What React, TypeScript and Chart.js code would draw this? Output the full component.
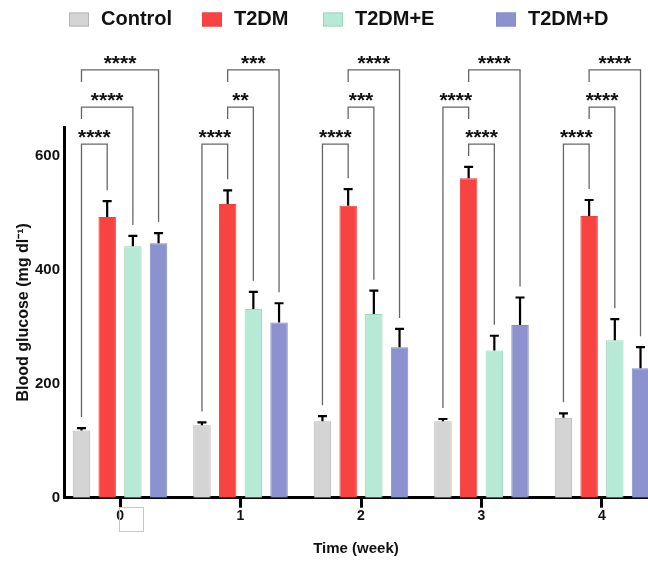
import React, { useEffect, useRef } from 'react';
import { Chart, registerables } from 'chart.js';

Chart.register(...registerables);

// ---------- data ----------
const WEEKS = [0, 1, 2, 3, 4];
const SERIES_NAMES = ['Control', 'T2DM', 'T2DM+E', 'T2DM+D'];

const CONTROL = [118, 127, 134, 134, 140];
const CONTROL_SD = [4, 5, 9, 4, 8];
const T2DM = [492, 515, 512, 560, 494];
const T2DM_SD = [28, 24, 29, 20, 28];
const T2DM_E = [441, 331, 322, 258, 276];
const T2DM_E_SD = [18, 30, 41, 26, 37];
const T2DM_D = [446, 307, 264, 303, 227];
const T2DM_D_SD = [18, 34, 32, 48, 37];

const Y_TICKS = [0, 200, 400, 600];

// significance brackets per week: [seriesA, seriesB, label], listed from lowest level up
const SIG_W0: [number, number, string][] = [[0, 1, '****'], [0, 2, '****'], [0, 3, '****']];
const SIG_W1: [number, number, string][] = [[0, 1, '****'], [1, 2, '**'], [1, 3, '***']];
const SIG_W2: [number, number, string][] = [[0, 1, '****'], [1, 2, '***'], [1, 3, '****']];
const SIG_W3: [number, number, string][] = [[1, 2, '****'], [0, 1, '****'], [1, 3, '****']];
const SIG_W4: [number, number, string][] = [[0, 1, '****'], [1, 2, '****'], [1, 3, '****']];
const BRACKET_LEVELS = [620, 685, 750];

// ---------- style ----------
const FILL = ['#d4d4d4', '#f84343', '#b6e9d6', '#8b92cd'];
const BORDER = ['#b4b4b4', '#f04040', '#9fd6c0', '#858bc8'];
const FONT = '"Liberation Sans", Arial, Helvetica, sans-serif';
const LEGEND_X = [69, 202, 323, 496];

export default function App() {
  const ref = useRef<HTMLCanvasElement>(null);

  useEffect(() => {
    if (!ref.current) return;
    const means = [CONTROL, T2DM, T2DM_E, T2DM_D];
    const sds = [CONTROL_SD, T2DM_SD, T2DM_E_SD, T2DM_D_SD];
    const sigs = [SIG_W0, SIG_W1, SIG_W2, SIG_W3, SIG_W4];

    const errorBars = {
      id: 'errorBars',
      afterDatasetsDraw(chart: any) {
        const y = chart.scales.y;
        const ctx = chart.ctx;
        ctx.save();
        ctx.strokeStyle = '#000';
        ctx.lineWidth = 2.2;
        chart.data.datasets.forEach((_ds: any, di: number) => {
          const meta = chart.getDatasetMeta(di);
          meta.data.forEach((bar: any, i: number) => {
            const top = y.getPixelForValue(means[di][i] + sds[di][i]);
            ctx.beginPath();
            ctx.moveTo(bar.x, bar.y);
            ctx.lineTo(bar.x, top);
            ctx.moveTo(bar.x - 4.5, top);
            ctx.lineTo(bar.x + 4.5, top);
            ctx.stroke();
          });
        });
        ctx.restore();
      },
    };

    const brackets = {
      id: 'brackets',
      afterDraw(chart: any) {
        const y = chart.scales.y;
        const ctx = chart.ctx;
        ctx.save();
        ctx.strokeStyle = '#666';
        ctx.lineWidth = 1.3;
        ctx.fillStyle = '#111';
        ctx.font = `bold 21px ${FONT}`;
        ctx.textAlign = 'center';
        ctx.textBaseline = 'alphabetic';
        sigs.forEach((pairs, g) => {
          pairs.forEach(([a, b, label], level) => {
            const hy = y.getPixelForValue(BRACKET_LEVELS[level]);
            const xa = chart.getDatasetMeta(a).data[g].x;
            const xb = chart.getDatasetMeta(b).data[g].x;
            const legEnd = (s: number) => {
              const lower = pairs.slice(0, level).some((p) => p[0] === s || p[1] === s);
              if (lower) return hy + 12;
              return y.getPixelForValue(means[s][g] + sds[s][g]) - 11;
            };
            ctx.beginPath();
            ctx.moveTo(xa, legEnd(a));
            ctx.lineTo(xa, hy);
            ctx.lineTo(xb, hy);
            ctx.lineTo(xb, legEnd(b));
            ctx.stroke();
            ctx.fillText(label, (xa + xb) / 2, hy);
          });
        });
        // small empty box under the first tick
        const x0 = chart.scales.x.getPixelForValue(WEEKS[0]);
        ctx.strokeStyle = '#c8c8c8';
        ctx.lineWidth = 1;
        ctx.strokeRect(Math.round(x0) - 0.5, Math.round(chart.chartArea.bottom) + 9.5, 24, 24);
        ctx.restore();
      },
    };

    const legend = {
      id: 'customLegend',
      afterDraw(chart: any) {
        const ctx = chart.ctx;
        ctx.save();
        ctx.font = `bold 20px ${FONT}`;
        ctx.textAlign = 'left';
        ctx.textBaseline = 'middle';
        chart.data.datasets.forEach((ds: any, i: number) => {
          const x = LEGEND_X[i];
          ctx.fillStyle = ds.backgroundColor;
          ctx.fillRect(x, 12.5, 20, 14);
          ctx.strokeStyle = ds.borderColor;
          ctx.lineWidth = 1;
          ctx.strokeRect(x + 0.5, 13, 19, 13);
          ctx.fillStyle = '#111';
          ctx.fillText(ds.label, x + 32, 19.5);
        });
        ctx.restore();
      },
    };

    const series = [CONTROL, T2DM, T2DM_E, T2DM_D];
    const chart = new Chart(ref.current, {
      type: 'bar',
      data: {
        datasets: series.map((vals, si) => ({
          label: SERIES_NAMES[si],
          data: WEEKS.map((w, i) => ({ x: w, y: vals[i] })),
          backgroundColor: FILL[si],
          borderColor: BORDER[si],
          borderWidth: 1,
          categoryPercentage: 0.853,
          barPercentage: 0.68,
        })),
      },
      options: {
        responsive: false,
        animation: false,
        events: [],
        layout: { padding: { top: 127, left: 0, right: 0, bottom: 0 } },
        plugins: { legend: { display: false }, tooltip: { enabled: false } },
        scales: {
          x: {
            type: 'linear',
            min: -0.465,
            max: 4.382,
            offset: false,
            afterBuildTicks: (s: any) => {
              s.ticks = WEEKS.map((v) => ({ value: v }));
            },
            afterFit: (s: any) => {
              s.height = 63.3;
            },
            ticks: {
              callback: (v: any) => String(v),
              color: '#111',
              padding: 0,
              font: { family: FONT, size: 14, weight: 'bold' },
              maxRotation: 0,
            },
            grid: {
              display: true,
              offset: false,
              drawOnChartArea: false,
              drawTicks: true,
              tickLength: 10,
              tickWidth: 3,
              tickColor: '#000',
              color: '#000',
              lineWidth: 3,
            },
            border: { display: true, color: '#000', width: 3 },
            title: {
              display: true,
              text: 'Time (week)',
              color: '#111',
              font: { family: FONT, size: 15, weight: 'bold' },
              padding: { top: 0, bottom: 3.5 },
            },
          },
          y: {
            type: 'linear',
            min: 0,
            max: 650,
            afterBuildTicks: (s: any) => {
              s.ticks = Y_TICKS.map((v) => ({ value: v }));
            },
            afterFit: (s: any) => {
              s.width = 64;
            },
            ticks: {
              callback: (v: any) => String(v),
              color: '#111',
              padding: 4,
              font: { family: FONT, size: 15, weight: 'bold' },
            },
            grid: { display: false, drawTicks: false },
            border: { display: true, color: '#000', width: 3 },
            title: {
              display: true,
              text: 'Blood glucose (mg dl\u207B\u00B9)',
              color: '#111',
              font: { family: FONT, size: 16, weight: 'bold' },
              padding: { top: 14.4, bottom: 0 },
            },
          },
        },
      },
      plugins: [errorBars, brackets, legend],
    } as any);

    return () => chart.destroy();
  }, []);

  return (
    <div style={{ position: 'absolute', left: 0, top: 0, width: 648, height: 561, background: '#fff' }}>
      <canvas ref={ref} width={648} height={561} style={{ display: 'block' }} />
    </div>
  );
}
